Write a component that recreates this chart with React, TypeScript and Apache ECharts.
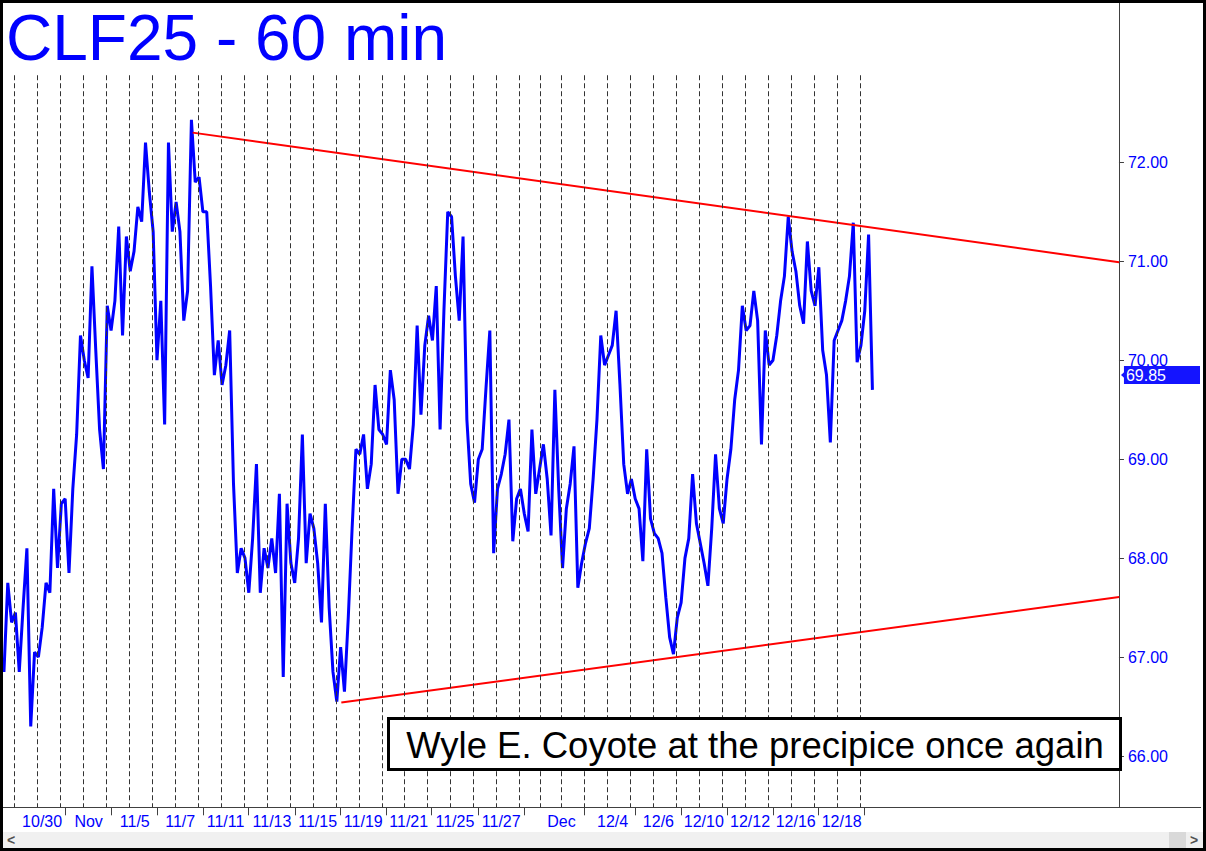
import React, { useEffect, useRef } from 'react';
import * as echarts from 'echarts';

const TITLE = 'CLF25 - 60 min';
const NOTE = 'Wyle E. Coyote at the precipice once again';
const FONT = '"Liberation Sans", Arial, Helvetica, sans-serif';

// x unit = one 60-minute bar
const BARS_PER_DAY = 23;
const SAMPLES_PER_DAY = 6;
const FIRST_SAMPLE_BAR = 0.95;

// session separators (bar index)
const sessionStarts = [
  11.5, 34.5, 57.5, 80.5, 103.5, 126.5, 149.5, 172.5, 195.5, 218.5,
  241.5, 264.5, 287.5, 310.5, 333.5, 356.5, 379.5, 402.5, 425.5, 448.5,
  471.5, 494.5, 517.5, 538.5, 559.5, 582.5, 605.5, 628.5, 651.5, 674.5,
  697.5, 720.5, 743.5, 766.5, 789.5, 812.5, 835.5, 858.5,
];

const dateLabels = ['10/30', 'Nov', '11/5', '11/7', '11/11', '11/13', '11/15', '11/19', '11/21',
  '11/25', '11/27', 'Dec', '12/4', '12/6', '12/10', '12/12', '12/16', '12/18'];
const dateLabelBars = [39.2, 85.8, 132, 177.5, 223, 269.5, 315.3, 361, 406.5,
  452.8, 499.2, 559.5, 610.8, 656.7, 702.2, 748.5, 794.2, 840.3];

// price samples, six per session
const priceByDay: number[][] = [
  [66.85, 67.75, 67.35],
  [67.45, 66.85, 67.5, 68.1, 66.3, 67.05],
  [67.0, 67.3, 67.75, 67.65, 68.7, 67.9],
  [68.55, 68.6, 67.85, 68.7, 69.25, 70.25],
  [70.0, 69.82, 70.95, 70.1, 69.3, 68.9],
  [70.55, 70.3, 70.6, 71.35, 70.25, 71.25],
  [70.9, 71.1, 71.55, 71.4, 72.2, 71.7],
  [71.3, 70.0, 70.6, 69.35, 72.2, 71.3],
  [71.6, 71.3, 70.4, 70.7, 72.43, 71.8],
  [71.85, 71.5, 71.5, 70.75, 69.85, 70.2],
  [69.75, 69.95, 70.3, 68.75, 67.85, 68.1],
  [68.0, 67.65, 68.2, 68.95, 67.65, 68.1],
  [67.9, 68.2, 67.85, 68.65, 66.8, 68.55],
  [67.95, 67.75, 68.2, 69.25, 67.95, 68.45],
  [68.3, 67.95, 67.35, 68.55, 67.5, 66.85],
  [66.55, 67.1, 66.65, 67.4, 68.3, 69.1],
  [69.05, 69.25, 68.7, 68.95, 69.75, 69.3],
  [69.25, 69.15, 69.9, 69.6, 68.65, 69.0],
  [69.0, 68.9, 69.35, 70.35, 69.45, 70.15],
  [70.45, 70.2, 70.75, 69.3, 70.5, 71.5],
  [71.45, 70.85, 70.4, 71.25, 69.4, 68.75],
  [68.56, 69.0, 69.1, 69.72, 70.3, 68.05],
  [68.7, 68.85, 69.05, 69.4, 68.17, 68.6],
  [68.7, 68.45, 68.27, 69.3, 68.65, 68.9],
  [69.15, 68.8, 68.23, 69.7, 68.7, 67.9],
  [68.5, 68.75, 69.13, 67.7, 67.95, 68.15],
  [68.3, 68.8, 69.4, 70.25, 69.95, 70.05],
  [70.15, 70.5, 69.76, 68.95, 68.65, 68.8],
  [68.6, 68.5, 67.97, 69.1, 68.4, 68.25],
  [68.2, 68.05, 67.6, 67.2, 67.03, 67.4],
  [67.55, 68.0, 68.2, 68.85, 68.35, 68.15],
  [67.95, 67.72, 68.3, 69.05, 68.5, 68.35],
  [68.8, 69.1, 69.6, 69.9, 70.55, 70.3],
  [70.35, 70.7, 70.4, 69.15, 70.3, 69.95],
  [70.0, 70.25, 70.6, 70.85, 71.45, 71.1],
  [70.9, 70.55, 70.37, 71.2, 70.7, 70.55],
  [70.94, 70.1, 69.85, 69.17, 70.2, 70.3],
  [70.4, 70.6, 70.85, 71.39, 69.98, 70.15],
  [70.5, 71.27, 69.7],
];

const upperTrend = [[190, 72.3], [1118.3, 70.99]];
const lowerTrend = [[339, 66.54], [1118.3, 67.607]];
const lastClose = 69.85;
const yTicks = [66, 67, 68, 69, 70, 71, 72];
const Y_MIN = 65.482;
const Y_MAX = 73.61;
const SEPARATOR_TOP = 72.88;
const X_MIN = 0;
const X_MAX = 1200;

export default function App() {
  const ref = useRef<HTMLDivElement>(null);
  useEffect(() => {
    document.body.style.margin = '0';
    const chart = echarts.init(ref.current!, null, { renderer: 'svg' });
    const flat = priceByDay.flat();
    const step = BARS_PER_DAY / SAMPLES_PER_DAY;
    const priceData = flat.map((v, i) => [FIRST_SAMPLE_BAR + i * step, v]);
    const tickBars = dateLabelBars.map((b) => b + 23);
    const nearestLabel = (val: number) => {
      let best = 0;
      let bd = Infinity;
      dateLabelBars.forEach((b, i) => {
        const d = Math.abs(b - val);
        if (d < bd) { bd = d; best = i; }
      });
      return dateLabels[best];
    };
    const option: any = {
      animation: false,
      backgroundColor: '#ffffff',
      title: {
        text: TITLE,
        left: 3,
        top: 3,
        padding: 0,
        textStyle: { color: '#0000ff', fontSize: 64, fontWeight: 'normal', fontFamily: FONT },
      },
      grid: { left: 0, right: 0, top: 0, bottom: 40.7, containLabel: false },
      xAxis: {
        type: 'value',
        min: X_MIN,
        max: X_MAX,
        axisLine: { show: true, onZero: false, lineStyle: { color: '#404040', width: 1 } },
        axisTick: { show: true, customValues: tickBars, length: 8, lineStyle: { color: '#404040' } },
        axisLabel: {
          customValues: dateLabelBars,
          formatter: (v: number) => nearestLabel(v),
          color: '#0000ff',
          fontSize: 16,
          fontFamily: FONT,
          margin: 6,
        },
        splitLine: { show: false },
      },
      yAxis: [
        {
          type: 'value',
          position: 'right',
          offset: -81.7,
          min: Y_MIN,
          max: Y_MAX,
          axisLine: { show: true, onZero: false, lineStyle: { color: '#404040', width: 1 } },
          axisTick: { show: true, customValues: yTicks, length: 5, lineStyle: { color: '#404040' } },
          axisLabel: {
            customValues: yTicks,
            formatter: (v: number) => v.toFixed(2),
            color: '#0000ff',
            fontSize: 16,
            fontFamily: FONT,
            margin: 9,
          },
          splitLine: { show: false },
        },
        {
          type: 'value',
          position: 'right',
          offset: -81.7,
          min: Y_MIN,
          max: Y_MAX,
          axisLine: { show: false, onZero: false },
          axisTick: { show: false },
          axisLabel: {
            customValues: [lastClose],
            formatter: () => lastClose.toFixed(2),
            color: '#ffffff',
            backgroundColor: '#1414ff',
            fontSize: 16,
            lineHeight: 16,
            fontFamily: FONT,
            padding: [1, 34, 1, 2],
            margin: 5,
          },
          splitLine: { show: false },
        },
      ],
      series: [
        {
          type: 'line',
          name: 'separators',
          data: [],
          silent: true,
          markLine: {
            silent: true,
            symbol: ['none', 'none'],
            label: { show: false },
            lineStyle: { type: [5, 3], color: '#333333', width: 1 },
            emphasis: { disabled: true },
            data: sessionStarts.map((b) => [{ coord: [b, SEPARATOR_TOP] }, { coord: [b, Y_MIN] }]),
          },
        },
        {
          type: 'line',
          name: 'CLF25',
          data: priceData,
          showSymbol: false,
          symbol: 'none',
          lineStyle: { color: '#0000ff', width: 3 },
          silent: true,
          z: 3,
        },
        {
          type: 'line',
          name: 'upper',
          data: upperTrend,
          showSymbol: false,
          symbol: 'none',
          lineStyle: { color: '#ff0000', width: 2 },
          silent: true,
          z: 4,
        },
        {
          type: 'line',
          name: 'lower',
          data: lowerTrend,
          showSymbol: false,
          symbol: 'none',
          lineStyle: { color: '#ff0000', width: 2 },
          silent: true,
          z: 4,
        },
      ],
      graphic: [
        { id: 'sbBg', type: 'rect', shape: { x: 0, y: 829, width: 1200, height: 16 }, style: { fill: '#f0f0f0' }, silent: true },
        { id: 'sbThumb', type: 'rect', shape: { x: 1166, y: 829, width: 17, height: 16 }, style: { fill: '#d9d9d9' }, silent: true },
        { id: 'sbLeft', type: 'text', x: 8, y: 837, style: { text: '<', fill: '#505050', font: `bold 14px ${FONT}`, align: 'center', verticalAlign: 'middle' }, silent: true },
        { id: 'sbRight', type: 'text', x: 1191, y: 837, style: { text: '>', fill: '#505050', font: `bold 14px ${FONT}`, align: 'center', verticalAlign: 'middle' }, silent: true },
        { id: 'noteBox', type: 'rect', shape: { x: 385.5, y: 715.5, width: 732, height: 51 }, style: { fill: '#ffffff', stroke: '#000000', lineWidth: 3 }, silent: true, z: 10 },
        { id: 'noteText', type: 'text', x: 752, y: 742, style: { text: NOTE, fill: '#000000', font: `36.5px ${FONT}`, align: 'center', verticalAlign: 'middle' }, silent: true, z: 11 },
      ],
    };
    chart.setOption(option);
    const py = chart.convertToPixel({ yAxisIndex: 0 }, lastClose) as number;
    chart.setOption({
      graphic: [
        { id: 'tagArrow', type: 'polygon', shape: { points: [[1118, py], [1123.5, py - 5], [1123.5, py + 5]] }, style: { fill: '#1414ff' }, silent: true, z: 20 },
      ],
    });
    return () => chart.dispose();
  }, []);
  return (
    <div style={{ position: 'absolute', left: 0, top: 0, width: 1206, height: 851, boxSizing: 'border-box', border: '3px solid #000', background: '#fff' }}>
      <div ref={ref} style={{ width: 1200, height: 845 }} />
    </div>
  );
}
